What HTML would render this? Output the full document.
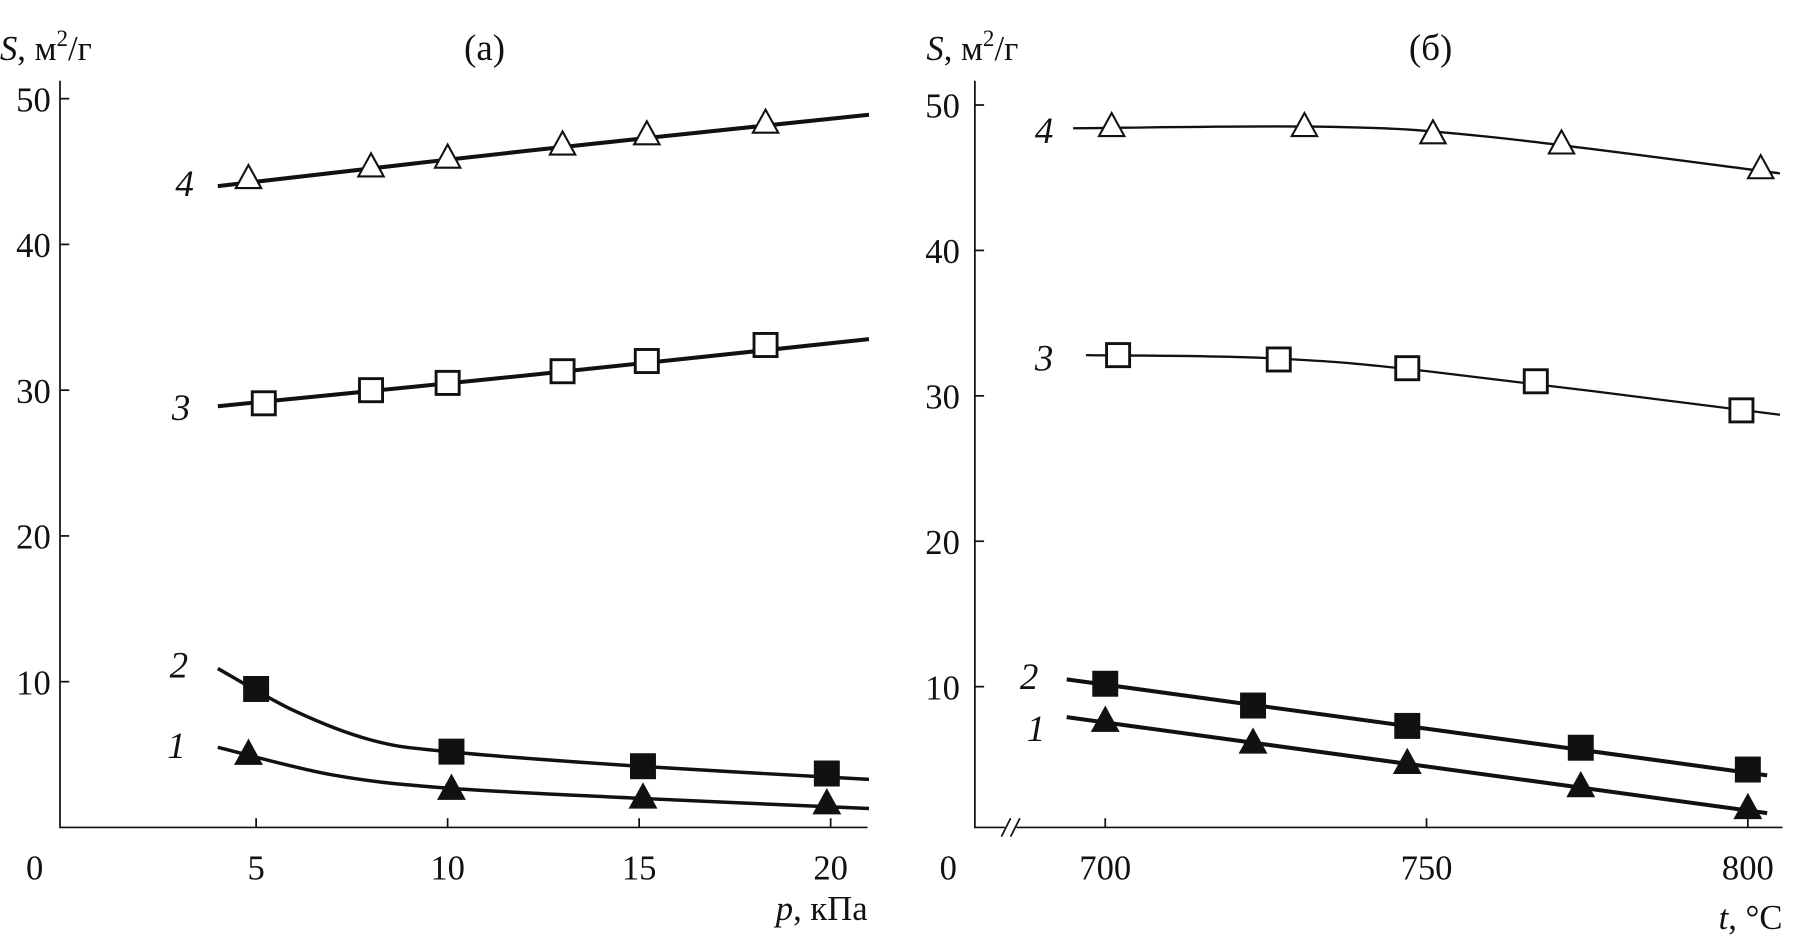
<!DOCTYPE html>
<html><head><meta charset="utf-8"><style>
html,body{margin:0;padding:0;background:#fff}
svg{display:block}
text{font-family:"Liberation Serif",serif;fill:#111}
</style></head><body>
<svg id="c" width="1809" height="944" viewBox="0 0 1568 818" preserveAspectRatio="none">
<g id="g"></g>
</svg>
<script>
// ---- data ----
const leftTicksX=[5,10,15,20];
const leftTicksY=[10,20,30,40,50];
const rightTicksX=[700,750,800];
const rightTicksY=[10,20,30,40,50];
const leftX4=[4.8,8,10,13,15.2,18.3], leftY4=[44.5,45.3,45.9,46.8,47.5,48.3];
const leftX3=[5.2,8,10,13,15.2,18.3], leftY3=[29.1,30,30.5,31.3,32,33.1];
const leftX2=[5,10.1,15.1,19.9], leftY2=[9.5,5.2,4.2,3.7];
const leftX1=[4.8,10.1,15.1,19.9], leftY1=[5,2.6,2,1.6];
const rightX4=[701,731,751,771,802], rightY4=[48.5,48.5,48,47.3,45.6];
const rightX3=[702,727,747,767,799], rightY3=[32.8,32.5,31.9,31,29];
const rightX2=[700,723,747,774,800], rightY2=[10.2,8.7,7.3,5.8,4.3];
const rightX1=[700,723,747,774,800], rightY1=[7.6,6.1,4.7,3.1,1.6];
// curve paths (fit lines)
const leftC4x=[4,12,21], leftC4y=[44,46.4,48.9];
const leftC3x=[4,12,21], leftC3y=[28.9,31,33.5];
const leftC2x=[4,6,8,10,15,21], leftC2y=[10.9,8,6,5.2,4.2,3.3];
const leftC1x=[4,7,10,15,21], leftC1y=[5.5,3.6,2.7,2,1.3];
const rightC4x=[695,735,760,805], rightC4y=[48.4,48.5,47.8,45.3];
const rightC3x=[697,725,750,805], rightC3y=[32.8,32.6,31.7,28.7];
const rightC2x=[694,803], rightC2y=[10.5,3.9];
const rightC1x=[694,803], rightC1y=[7.9,1.3];

const NS="http://www.w3.org/2000/svg", G=document.getElementById('g');
function el(t,a,p){const e=document.createElementNS(NS,t);for(const k in a)e.setAttribute(k,a[k]);(p||G).appendChild(e);return e;}
const LX=v=>56+(v-0)*33.2, LY=v=>717-v*12.63;
const RX=v=>958+(v-700)*5.57, RY=v=>721-v*12.6;

function curve(xs,ys,fx,fy,w,name){
  const P=xs.map((x,i)=>[fx(x),fy(ys[i])]);
  let d='M'+P[0][0]+','+P[0][1];
  for(let i=0;i<P.length-1;i++){
    const p0=P[Math.max(0,i-1)],p1=P[i],p2=P[i+1],p3=P[Math.min(P.length-1,i+2)];
    d+=' C'+(p1[0]+(p2[0]-p0[0])/6)+','+(p1[1]+(p2[1]-p0[1])/6)+' '+(p2[0]-(p3[0]-p1[0])/6)+','+(p2[1]-(p3[1]-p1[1])/6)+' '+p2[0]+','+p2[1];
  }
  const e=el('path',{d:d,fill:'none',stroke:'#111','stroke-width':w});
  
  
}
function markers(xs,ys,fx,fy,type,name){
  xs.forEach((x,i)=>{
    const cx=fx(x),cy=fy(ys[i]);let e;
    if(type==='sq'||type==='sqo'){
      e=el('rect',{x:cx-10,y:cy-10,width:20,height:20,fill:type==='sq'?'#111':'#fff',stroke:'#111','stroke-width':2.5});
    }else{
      e=el('polygon',{points:(cx)+','+(cy-12)+' '+(cx-11)+','+(cy+8)+' '+(cx+11)+','+(cy+8),fill:type==='tri'?'#111':'#fff',stroke:'#111','stroke-width':1.8});
    }
    
    
  });
}
function txt(x,y,s,size,name,anchor,italic){
  const e=el('text',{x:x,y:y,'font-size':size,'text-anchor':anchor||'start'});
  if(italic)e.setAttribute('font-style','italic');
  e.textContent=s;
  
  
  return e;
}
// axes left
let a=el('path',{d:'M52,70 L52,717 L752,717',fill:'none',stroke:'#111','stroke-width':1.5});

leftTicksY.forEach(v=>{el('line',{x1:52,x2:60,y1:LY(v),y2:LY(v),stroke:'#111','stroke-width':1.5});txt(44,LY(v)+11,String(v),30,'left-y-tick','end');});
leftTicksX.forEach(v=>{el('line',{x1:LX(v),x2:LX(v),y1:717,y2:709,stroke:'#111','stroke-width':1.5});txt(LX(v),762,String(v),30,'left-x-tick','middle');});
txt(30,762,'0',30,'left-origin','middle');
// axes right
a=el('path',{d:'M845,70 L845,717 L1545,717',fill:'none',stroke:'#111','stroke-width':1.5});

el('rect',{x:871,y:708,width:10,height:18,fill:'#fff'});
el('line',{x1:868,y1:725,x2:876,y2:709,stroke:'#111','stroke-width':1.5});
el('line',{x1:876,y1:725,x2:884,y2:709,stroke:'#111','stroke-width':1.5});
rightTicksY.forEach(v=>{el('line',{x1:845,x2:853,y1:RY(v),y2:RY(v),stroke:'#111','stroke-width':1.5});txt(832,RY(v)+11,String(v),30,'right-y-tick','end');});
rightTicksX.forEach(v=>{el('line',{x1:RX(v),x2:RX(v),y1:717,y2:709,stroke:'#111','stroke-width':1.5});txt(RX(v),762,String(v),30,'right-x-tick','middle');});
txt(822,762,'0',30,'right-origin','middle');
// curves
curve(leftC4x,leftC4y,LX,LY,3.5,'left-curve-4');
curve(leftC3x,leftC3y,LX,LY,3.5,'left-curve-3');
curve(leftC2x,leftC2y,LX,LY,3,'left-curve-2');
curve(leftC1x,leftC1y,LX,LY,3,'left-curve-1');
curve(rightC4x,rightC4y,RX,RY,2,'right-curve-4');
curve(rightC3x,rightC3y,RX,RY,2,'right-curve-3');
curve(rightC2x,rightC2y,RX,RY,3.5,'right-curve-2');
curve(rightC1x,rightC1y,RX,RY,3.5,'right-curve-1');
markers(leftX4,leftY4,LX,LY,'trio','left-point-4');
markers(leftX3,leftY3,LX,LY,'sqo','left-point-3');
markers(leftX2,leftY2,LX,LY,'sq','left-point-2');
markers(leftX1,leftY1,LX,LY,'tri','left-point-1');
markers(rightX4,rightY4,RX,RY,'trio','right-point-4');
markers(rightX3,rightY3,RX,RY,'sqo','right-point-3');
markers(rightX2,rightY2,RX,RY,'sq','right-point-2');
markers(rightX1,rightY1,RX,RY,'tri','right-point-1');
// labels
txt(160,170,'4',32,'left-label-4','middle',true);
txt(157,364,'3',32,'left-label-3','middle',true);
txt(155,587,'2',32,'left-label-2','middle',true);
txt(153,657,'1',32,'left-label-1','middle',true);
txt(905,124,'4',32,'right-label-4','middle',true);
txt(905,321,'3',32,'right-label-3','middle',true);
txt(892,597,'2',32,'right-label-2','middle',true);
txt(898,642,'1',32,'right-label-1','middle',true);
txt(420,52,'(а)',32,'left-title','middle');
txt(1240,52,'(б)',32,'right-title','middle');
let t=txt(0,52,'',30,'left-y-title');t.innerHTML='<tspan font-style="italic">S</tspan>, м<tspan font-size="20" dy="-12">2</tspan><tspan dy="12">/г</tspan>';
t=txt(803,52,'',30,'right-y-title');t.innerHTML='<tspan font-style="italic">S</tspan>, м<tspan font-size="20" dy="-12">2</tspan><tspan dy="12">/г</tspan>';
t=txt(752,797,'',30,'left-x-title','end');t.innerHTML='<tspan font-style="italic">p</tspan>, кПа';
t=txt(1545,805,'',30,'right-x-title','end');t.innerHTML='<tspan font-style="italic">t</tspan>, °C';
</script>
</body></html>
